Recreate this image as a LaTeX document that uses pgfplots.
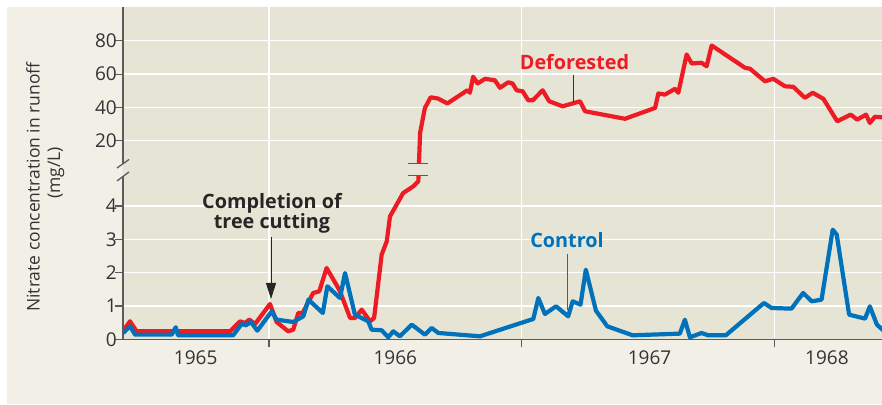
\documentclass[border=0pt]{standalone}
\usepackage{pgfplots}
\pgfplotsset{compat=1.18}
\usepackage{fontspec}
\setmainfont{Open Sans}
\usetikzlibrary{arrows.meta}
\definecolor{panel}{HTML}{F2EFE7}
\definecolor{plotbg}{HTML}{E6E4D5}
\definecolor{defred}{HTML}{ED1C24}
\definecolor{ctrlblue}{HTML}{0072BC}
\definecolor{axgray}{HTML}{5B5B5B}
\definecolor{txt}{HTML}{333333}
\begin{document}
\begin{tikzpicture}
\fill[white] (0pt,0pt) rectangle (882pt,404pt);
\fill[panel] (7pt,0pt) rectangle (882pt,396.5pt);
\begin{axis}[
  at={(123.3pt,64.7pt)}, anchor=south west,
  scale only axis, width=758.7pt, height=331.8pt,
  xmin=1965.4234, xmax=1968.4262,
  ymin=0, ymax=100,
  y coord trafo/.code={\pgfmathparse{#1>5.5 ? 4.958+#1/20 : #1}},
  y coord inv trafo/.code={\pgfmathparse{#1>4.9 ? (#1-4.958)*20 : #1}},
  axis background/.style={fill=plotbg},
  axis x line*=bottom, axis y line*=left,
  x axis line style={-, axgray, line width=1.6pt},
  y axis line style={draw=none},
  tick align=outside, major tick length=8pt,
  tick style={axgray, line width=1.2pt},
  grid=major, major grid style={white, line width=1.3pt},
  xtick={1966,1967,1968}, xticklabels={},
  extra x ticks={1965.710,1966.5,1967.506,1968.208},
  extra x tick labels={1965,1966,1967,1968},
  extra x tick style={grid=none, major tick length=0pt, xticklabel style={yshift=-8pt}},
  ytick={0,1,2,3,4,20,40,60,80},
  yticklabels={0,1,2,3,4,20,40,60,80},
  yticklabel style={xshift=5pt},
  ticklabel style={font=\fontsize{19}{19}\selectfont, text=txt},
  /pgf/number format/assume math mode=true,
  clip=true,
]
\addplot[defred, line width=4.2pt, line join=round] table {
1965.423 0.26
1965.450 0.54
1965.476 0.24
1965.846 0.24
1965.885 0.54
1965.905 0.49
1965.922 0.59
1965.945 0.46
1966.004 1.06
1966.030 0.52
1966.076 0.24
1966.096 0.29
1966.116 0.79
1966.133 0.79
1966.175 1.39
1966.199 1.44
1966.228 2.14
1966.268 1.62
1966.281 1.44
1966.321 0.64
1966.340 0.64
1966.367 0.89
1966.400 0.54
1966.416 0.64
1966.446 2.54
1966.466 2.94
1966.479 3.69
1966.531 4.39
1966.571 4.59
1966.591 4.74
1966.598 24.7
1966.617 39.7
1966.640 46.1
1966.670 45.3
1966.706 42.4
1966.785 50.3
1966.795 48.8
1966.808 58.4
1966.826 54.4
1966.855 57.2
1966.894 56.3
1966.914 51.8
1966.947 55.1
1966.964 54.4
1966.980 50.3
1967.004 49.7
1967.026 44.3
1967.044 44.3
1967.083 50.3
1967.109 43.7
1967.162 40.7
1967.231 43.7
1967.251 37.7
1967.409 33.2
1967.528 39.7
1967.541 48.4
1967.567 47.7
1967.607 51.2
1967.620 48.8
1967.653 71.8
1967.673 66.4
1967.712 66.8
1967.732 64.7
1967.752 77.2
1967.884 63.8
1967.904 63.2
1967.963 55.7
1967.996 57.2
1968.042 52.7
1968.075 52.4
1968.121 45.8
1968.152 48.8
1968.194 45.2
1968.249 31.7
1968.302 35.7
1968.328 32.7
1968.363 35.7
1968.378 30.7
1968.398 34.4
1968.434 34.0
};
\addplot[ctrlblue, line width=4.2pt, line join=round] table {
1965.423 0.19
1965.450 0.39
1965.470 0.14
1965.615 0.14
1965.631 0.36
1965.640 0.12
1965.858 0.12
1965.892 0.46
1965.909 0.42
1965.928 0.52
1965.954 0.26
1966.011 0.84
1966.030 0.59
1966.096 0.52
1966.136 0.69
1966.156 1.19
1966.213 0.79
1966.231 1.59
1966.281 1.24
1966.301 1.99
1966.340 0.74
1966.393 0.54
1966.406 0.29
1966.446 0.27
1966.472 0.06
1966.492 0.24
1966.518 0.09
1966.565 0.44
1966.617 0.14
1966.644 0.34
1966.670 0.19
1966.835 0.09
1967.046 0.61
1967.066 1.24
1967.092 0.76
1967.136 0.99
1967.184 0.69
1967.202 1.14
1967.233 1.04
1967.254 2.09
1967.294 0.86
1967.339 0.39
1967.439 0.12
1967.626 0.17
1967.646 0.59
1967.666 0.06
1967.712 0.19
1967.738 0.12
1967.808 0.12
1967.959 1.09
1967.989 0.94
1968.068 0.92
1968.114 1.39
1968.148 1.14
1968.187 1.19
1968.231 3.29
1968.247 3.14
1968.296 0.74
1968.359 0.62
1968.378 0.99
1968.406 0.44
1968.434 0.25
};
\end{axis}
% y axis line with break
\draw[axgray, line width=1.8pt] (123.3pt,64.7pt) -- (123.3pt,227.5pt);
\draw[axgray, line width=1.8pt] (123.3pt,240pt) -- (123.3pt,396.5pt);
\fill[panel] (118pt,228pt) rectangle (122.3pt,240pt);
\draw[axgray, line width=1.3pt] (117pt,236pt) -- (129pt,244.5pt);
\draw[axgray, line width=1.3pt] (117pt,223pt) -- (129pt,232pt);
% break on deforested line
\fill[plotbg] (410pt,229.3pt) rectangle (427pt,239.7pt);
\draw[axgray, line width=1.4pt] (408pt,240.7pt) -- (428pt,240.7pt);
\draw[axgray, line width=1.4pt] (408pt,228.3pt) -- (428pt,228.3pt);
% y label
\node[rotate=90, anchor=base, text=txt, font=\fontsize{17.5}{17.5}\selectfont] at (39.5pt,217pt) {Nitrate concentration in runoff};
\node[rotate=90, anchor=base, text=txt, font=\fontsize{17.5}{17.5}\selectfont] at (60pt,231pt) {(mg/L)};
% annotations
\node[anchor=base, font=\bfseries\fontsize{19.8}{19.8}\selectfont, text=black!85] at (272pt,195pt) {Completion of};
\node[anchor=base, font=\bfseries\fontsize{19.8}{19.8}\selectfont, text=black!85] at (272pt,175pt) {tree cutting};
\draw[black!85, line width=1pt, -{Triangle[width=10pt,length=16pt]}] (271pt,167pt) -- (271pt,105pt);
\node[anchor=base, font=\bfseries\fontsize{19.8}{19.8}\selectfont, text=ctrlblue] at (567pt,156pt) {Control};
\draw[axgray, line width=1pt] (567pt,150pt) -- (567pt,94pt);
\node[anchor=base, font=\bfseries\fontsize{19.8}{19.8}\selectfont, text=defred] at (574.5pt,334.5pt) {Deforested};
\draw[black!80, line width=1pt] (573pt,329pt) -- (573pt,302pt);
\pgfresetboundingbox
\path[use as bounding box] (0pt,0pt) rectangle (882pt,404pt);
\end{tikzpicture}
\end{document}
